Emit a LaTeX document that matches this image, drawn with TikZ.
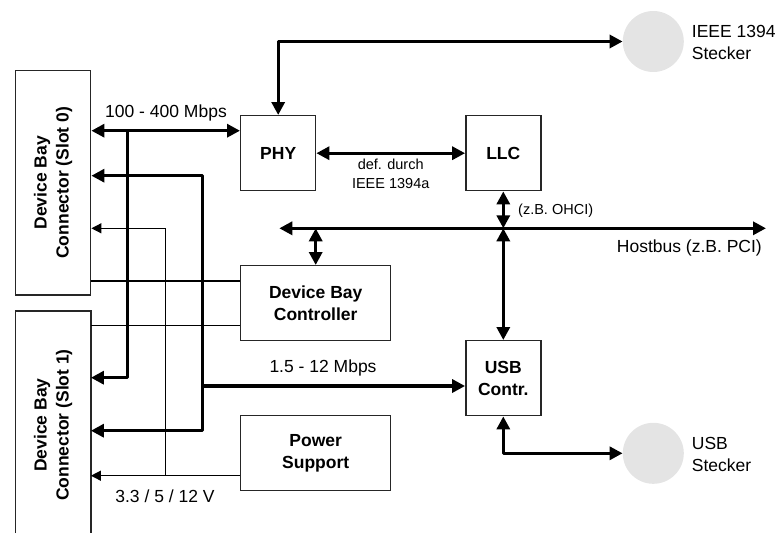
\documentclass[tikz,border=0pt]{standalone}
\usepackage{fontspec}
\setmainfont{Liberation Sans}
\usetikzlibrary{arrows.meta}
\begin{document}
\begin{tikzpicture}[x=1pt,y=-1pt,
  boxline/.style={draw=black!85, line width=1.4pt},
  box/.style={boxline, inner sep=0pt, font=\bfseries\fontsize{17.5}{22}\selectfont, align=center},
  slottext/.style={rotate=90, inner sep=0pt, font=\bfseries\fontsize{17.5}{22}\selectfont, align=center},
  bus/.style={line width=3.2pt, line join=round, >={Triangle[length=13pt,width=13pt]}},
  wire/.style={line width=1.3pt, >={Triangle[length=10pt,width=10pt]}},
  lbl/.style={inner sep=0pt, font=\fontsize{17.5}{22}\selectfont},
  small/.style={inner sep=0pt, font=\fontsize{14.5}{19}\selectfont},
  plug/.style={circle, fill={rgb,255:red,228;green,228;blue,228}, minimum size=61pt, inner sep=0pt}]
\useasboundingbox (0,0) rectangle (776,533);

% connector slots
\node[boxline, inner sep=0pt, minimum width=75pt, minimum height=224.3pt] (slot0) at (53.2,182.85) {};
\node[slottext] (slot0txt) at (slot0.center) {Device Bay\\Connector (Slot 0)};
\node[inner sep=0pt, minimum width=75pt, minimum height=222pt] (slot1) at (53.2,422) {};
\draw[boxline] (slot1.south west) -- (slot1.north west) -- (slot1.north east) -- (slot1.south east);
\node[slottext] (slot1txt) at (53.2,425) {Device Bay\\Connector (Slot 1)};

% blocks
\node[box, minimum width=75pt, minimum height=75pt] (phy) at (278.2,153.2) {PHY};
\node[box, minimum width=75pt, minimum height=75pt] (llc) at (503.3,153.2) {LLC};
\node[box, minimum width=150pt, minimum height=75pt] (dbc) at (315.7,303.2) {Device Bay\\Controller};
\node[box, minimum width=75pt, minimum height=75pt] (usb) at (503.3,378.2) {USB\\Contr.};
\node[box, minimum width=150pt, minimum height=75pt] (pwr) at (315.7,453.2) {Power\\Support};
\node[plug] (ieee) at (653.3,41.5) {};
\node[plug] (usbc) at (653.3,453.3) {};

% junctions
\coordinate (a1) at (127.7,130.7);
\coordinate (a2) at (127.7,377.7);
\coordinate (b1) at (202.7,175.7);
\coordinate (b2) at (202.7,430.7);
\coordinate (b3) at (202.7,386);
\coordinate (c1) at (165.7,228.3);
\coordinate (c2) at (165.7,475.7);
\coordinate (d1) at (0,281);
\coordinate (d2) at (0,325.7);
\coordinate (hbL) at (279.3,228.3);
\coordinate (hbR) at (766,228.3);
\coordinate (hbX) at (503.3,228.3);

% thin lines
\draw[wire,->] (pwr.west |- c2) -- (slot1.east |- c2);
\draw[wire,->] (c2) -- (c1) -- (slot0.east |- c1);
\draw[wire] (slot0.east |- d1) -- (dbc.west |- d1);
\draw[wire] (slot1.east |- d2) -- (dbc.west |- d2);

% thick lines
\draw[bus,<->] (slot0.east |- a1) -- (phy.west |- a1);
\draw[bus,->] (a1) -- (a2) -- (slot1.east |- a2);
\draw[bus,<->] (slot0.east |- b1) -- (b1) -- (b2) -- (slot1.east |- b2);
\draw[bus,->] (b3) -- (usb.west |- b3);
\draw[bus,<->] (phy) -- (llc);
\draw[bus,<->] (phy.north) -- (phy.north |- ieee) -- (ieee.west);
\draw[bus,<->] (hbL) -- (hbR);
\draw[bus,<->] (llc.south) -- (hbX);
\draw[bus,<->] (hbX) -- (usb.north);
\draw[bus,<->] (dbc.north |- hbX) -- (dbc.north);
\draw[bus,<->] (usb.south) -- (usb.south |- usbc) -- (usbc.west);

% labels
\node[lbl] (l1) at (166,113) {100 - 400 Mbps};
\node[small, align=center] (l2) at (390.7,173.5) {def. durch\\IEEE 1394a};
\node[small, anchor=west] (l3) at (518,211) {(z.B. OHCI)};
\node[lbl, anchor=east] (l4) at (762,248) {Hostbus (z.B. PCI)};
\node[lbl] (l5) at (323,368) {1.5 - 12 Mbps};
\node[lbl] (l6) at (165,496) {3.3 / 5 / 12 V};
\node[lbl, anchor=west, align=left] (l7) at (691.7,42) {IEEE 1394\\Stecker};
\node[lbl, anchor=west, align=left] (l8) at (691.7,454) {USB\\Stecker};
\end{tikzpicture}
\end{document}
